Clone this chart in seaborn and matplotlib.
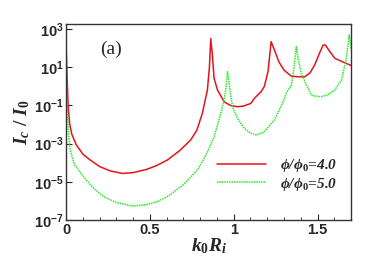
import matplotlib

matplotlib.use("Agg")

import matplotlib.pyplot as plt
import numpy as np
import pandas as pd
import seaborn as sns
from matplotlib.ticker import FixedLocator, MultipleLocator

# Kurve phi/phi0 = 4.0 (x = k0*Ri, y = log10(Ic/I0))
x_red = [0.0, 0.004, 0.012, 0.022, 0.034, 0.06, 0.1, 0.144, 0.2, 0.26, 0.334, 0.4, 0.48,
         0.54, 0.604, 0.68, 0.743, 0.78, 0.813, 0.843, 0.855, 0.863, 0.873, 0.883, 0.903,
         0.943, 0.98, 1.023, 1.06, 1.103, 1.123, 1.163, 1.183, 1.205, 1.223, 1.243, 1.269,
         1.3, 1.343, 1.383, 1.423, 1.455, 1.483, 1.51, 1.533, 1.547, 1.575, 1.603, 1.65, 1.703]
y_red = [2.2, 1.0, -1.0, -2.0, -2.5, -3.05, -3.55, -3.86, -4.2, -4.42, -4.56, -4.52, -4.35,
         -4.15, -3.86, -3.35, -2.81, -2.3, -1.41, -0.19, 1.0, 2.5, 1.6, 0.42, -0.19,
         -0.81, -1.0, -1.07, -1.03, -0.89, -0.63, -0.28, 0.0, 0.8, 2.34, 1.9, 1.29,
         0.85, 0.54, 0.5, 0.5, 0.7, 1.12, 1.7, 2.16, 2.16, 1.8, 1.47, 1.28, 1.08]

# Kurve phi/phi0 = 5.0
x_green = [0.0, 0.004, 0.012, 0.024, 0.05, 0.104, 0.16, 0.224, 0.3, 0.394, 0.48, 0.54,
           0.604, 0.7, 0.784, 0.84, 0.883, 0.92, 0.943, 0.955, 0.963, 0.973, 0.983, 0.993,
           1.02, 1.063, 1.1, 1.133, 1.18, 1.243, 1.29, 1.323, 1.343, 1.36, 1.373, 1.385,
           1.403, 1.443, 1.463, 1.49, 1.523, 1.56, 1.603, 1.643, 1.67, 1.689, 1.7]
y_green = [1.5, -0.5, -2.2, -3.34, -4.1, -4.73, -5.3, -5.78, -6.08, -6.27, -6.2, -6.05,
           -5.78, -5.15, -4.38, -3.5, -2.64, -1.5, -0.72, 0.0, 0.76, 0.2, -0.54, -1.07,
           -1.65, -2.2, -2.45, -2.55, -2.4, -1.76, -0.9, -0.19, 0.02, 1.0, 2.07, 1.4,
           0.68, -0.1, -0.46, -0.52, -0.54, -0.45, -0.19, 0.33, 1.4, 2.69, 1.99]

labels = ["ϕ/ϕ$_0$=4.0", "ϕ/ϕ$_0$=5.0"]

sns.set_style("ticks")
plt.rcParams["font.family"] = ["Liberation Sans", "DejaVu Sans"]
plt.rcParams["mathtext.fontset"] = "custom"
plt.rcParams["mathtext.rm"] = "Liberation Serif:bold"
plt.rcParams["mathtext.it"] = "Liberation Serif:italic:bold"
plt.rcParams["mathtext.bf"] = "Liberation Sans:bold"

df = pd.concat([
    pd.DataFrame({"x": x_red, "y": 10.0 ** np.array(y_red), "serie": labels[0]}),
    pd.DataFrame({"x": x_green, "y": 10.0 ** np.array(y_green), "serie": labels[1]}),
])

fig = plt.figure(figsize=(3.82, 2.57), dpi=100)
ax = fig.add_axes([0.173, 0.144, 0.746, 0.763])

sns.lineplot(
    data=df, x="x", y="y", hue="serie", style="serie",
    palette=["#e3141c", "#2ee82e"], dashes=[(None, None), (1, 0.6)],
    linewidth=1.1, ax=ax, legend=True, sort=False,
)
ax.set_yscale("log")
ax.set_xlim(0, 1.7)
ax.set_ylim(1e-7, 10 ** 3.27)

ax.xaxis.set_major_locator(FixedLocator([0, 0.5, 1, 1.5]))
ax.xaxis.set_minor_locator(MultipleLocator(0.1))
ax.set_xticklabels(["0", "0.5", "1", "1.5"], fontweight="bold", fontsize=10.5)
yt = [1e-7, 1e-5, 1e-3, 1e-1, 1e1, 1e3]
ax.yaxis.set_major_locator(FixedLocator(yt))
ax.yaxis.set_minor_locator(FixedLocator([]))
ax.set_yticklabels([r"$\mathbf{10^{%d}}$" % e for e in [-7, -5, -3, -1, 1, 3]], fontsize=10.5)
ax.tick_params(which="major", direction="in", length=4, width=0.8, pad=2)
ax.tick_params(which="minor", direction="in", length=2, width=0.6)

for s in ax.spines.values():
    s.set_linewidth(1.0)
    s.set_color("#333333")

ax.set_xlabel(r"$k_0R_i$", fontsize=14, labelpad=0)
ax.set_ylabel(r"$I_c\ /\ I_0$", fontsize=14, labelpad=1)

ax.text(0.12, 0.87, "(a)", transform=ax.transAxes, fontsize=14,
        family="Liberation Serif", va="center", ha="left")

leg = ax.legend(loc="lower right", bbox_to_anchor=(1.0, 0.07), frameon=False,
                prop={"family": "Liberation Serif", "style": "italic", "weight": "bold", "size": 11},
                handlelength=3.2, handletextpad=0.9, labelspacing=0.1)

fig.savefig("out.png", dpi=100)
